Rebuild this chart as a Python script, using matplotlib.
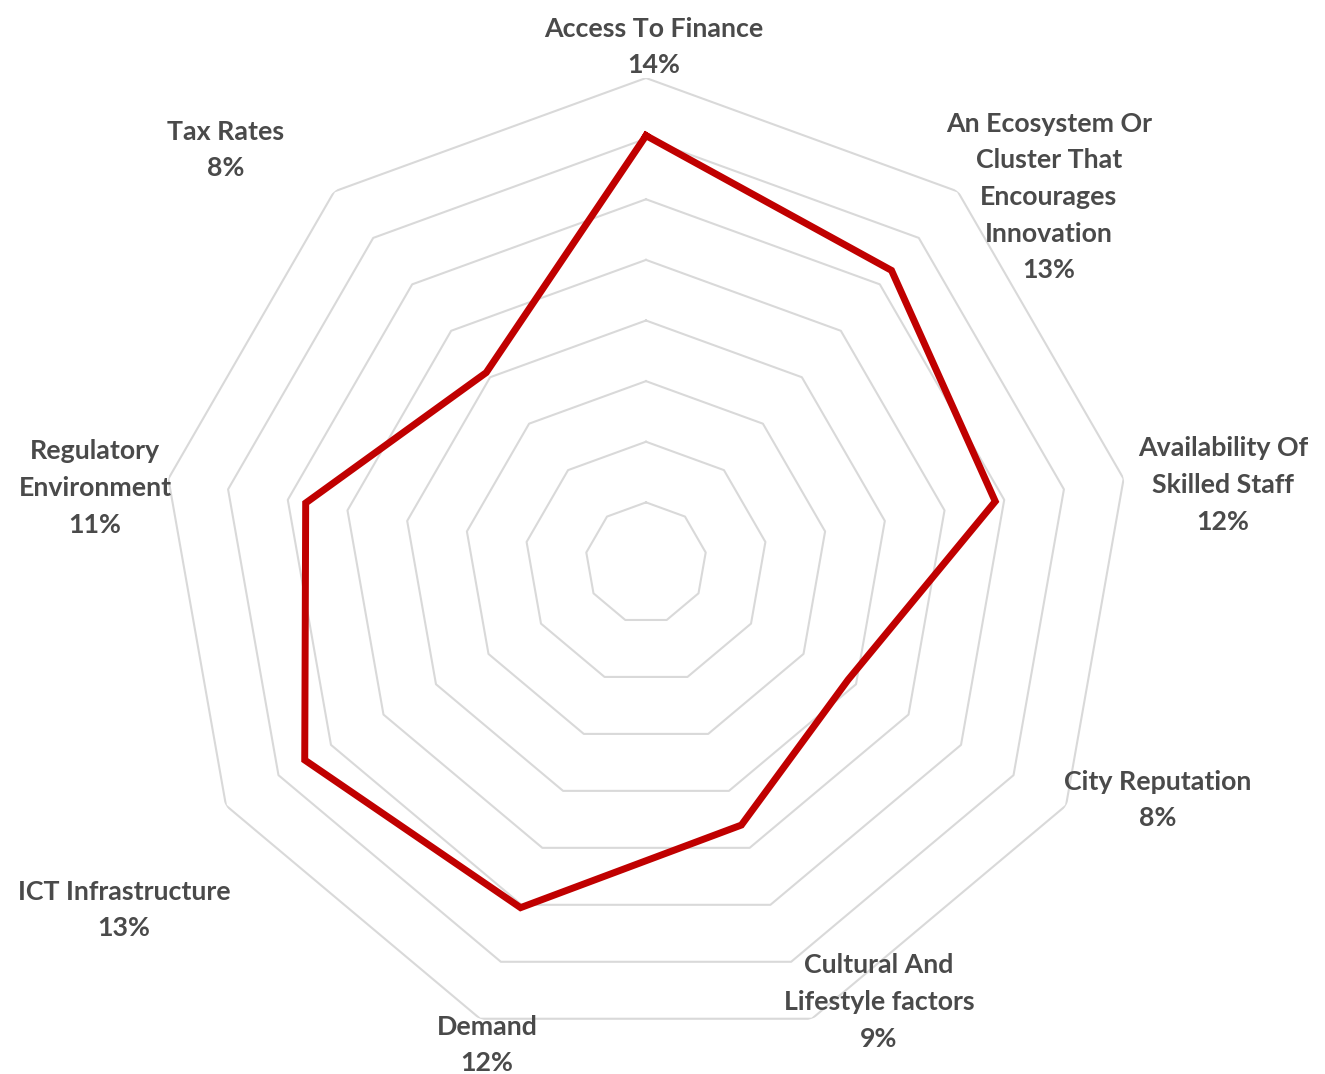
import numpy as np
import matplotlib
matplotlib.use('Agg')
from matplotlib import pyplot as plt

plt.rcParams['font.family'] = ['Lato', 'DejaVu Sans']

categories = ['Access To Finance',
              'An Ecosystem Or\nCluster That\nEncourages\nInnovation',
              'Availability Of\nSkilled Staff',
              'City Reputation',
              'Cultural And\nLifestyle factors',
              'Demand',
              'ICT Infrastructure',
              'Regulatory\nEnvironment',
              'Tax Rates']
values = [14.1, 12.6, 11.7, 7.7, 9.2, 12.1, 13.0, 11.4, 8.2]
rings = [2, 4, 6, 8, 10, 12, 14, 16]

# label centres in pixels (x from left, y from top)
label_pos = [(654, 47), (1049, 197), (1223, 485), (1158, 800), (879, 1002),
             (487, 1045), (124, 910), (95, 488), (226, 150)]

W, H = 1325, 1074
cx, cy, R = 646, 563, 485

fig = plt.figure(figsize=(W / 100, H / 100), dpi=100)
ax = fig.add_axes([(cx - R) / W, (H - cy - R) / H, 2 * R / W, 2 * R / H], polar=True)
ax.set_theta_zero_location('N')
ax.set_theta_direction(-1)
ax.set_ylim(0, 16)
ax.grid(False)
ax.spines['polar'].set_visible(False)
ax.set_xticks([])
ax.set_yticks([])
ax.patch.set_alpha(0)

n = len(categories)
angles = np.linspace(0, 2 * np.pi, n, endpoint=False)
closed = np.append(angles, angles[0])

for r in rings:
    ax.plot(closed, [r] * (n + 1), color='#d9d9d9', lw=1.5, zorder=1)

ax.plot(closed, values + values[:1], color='#c00000', lw=5,
        solid_joinstyle='miter', zorder=3)

for name, v, (x, y) in zip(categories, values, label_pos):
    fig.text(x / W, 1 - y / H, f'{name}\n{int(v + 0.5)}%', ha='center', va='center',
             multialignment='center', fontsize=19.3, fontweight='bold',
             color='#4a4a4a', linespacing=1.63)

fig.savefig('out.png', dpi=100)
